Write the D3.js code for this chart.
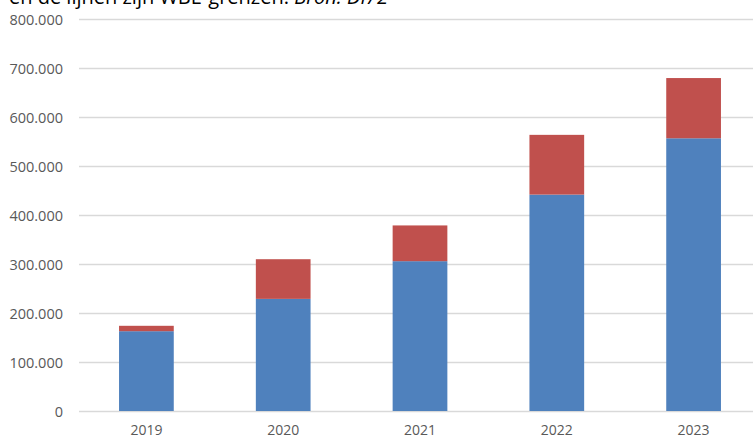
<!DOCTYPE html>
<html>
<head>
<meta charset="utf-8">
<script src="https://cdn.jsdelivr.net/npm/d3@7"></script>
<style>
  html, body { margin: 0; padding: 0; background: #fff; }
  svg { display: block; }
</style>
</head>
<body>
<svg id="chart" width="753" height="439"></svg>
<script>
const years = ["2019", "2020", "2021", "2022", "2023"];
const blueValues = [163000, 229000, 306000, 442000, 557000];
const redValues = [11000, 81000, 73000, 122000, 123000];
const yTicks = [0, 100000, 200000, 300000, 400000, 500000, 600000, 700000, 800000];
const captionText = "en de lijnen zijn WBE-grenzen. ";
const captionSource = "Bron: DI72";

const svg = d3.select("#chart");
const x = d3.scaleBand().domain(years).range([78, 762]).paddingInner(0.6).paddingOuter(0.3);
const y = d3.scaleLinear().domain([0, 800000]).range([411, 19.3]);
const fmt = v => v === 0 ? "0" : d3.format(",")(v).replace(/,/g, ".");

// caption (cut off at top, as in the reference)
const cap = svg.append("text").attr("x", 9).attr("y", 4)
  .attr("font-family", "'Open Sans', sans-serif").attr("font-size", 18).attr("fill", "#000");
cap.append("tspan").text(captionText);
cap.append("tspan").attr("font-style", "italic").text(captionSource);
const w = cap.node().getComputedTextLength();
cap.attr("font-size", 18 * 379 / w);

// gridlines
svg.append("g").selectAll("line").data(yTicks).join("line")
  .attr("x1", 79).attr("x2", 753)
  .attr("y1", d => Math.round(y(d)) + 0.5).attr("y2", d => Math.round(y(d)) + 0.5)
  .attr("stroke", "#d9d9d9").attr("stroke-width", 1.3);

const yAxis = d3.axisLeft(y).tickValues(yTicks).tickFormat(fmt).tickSize(0).tickPadding(0);
const ga = svg.append("g").attr("transform", "translate(63,0)").call(yAxis);
ga.select(".domain").remove();
ga.selectAll("text").attr("font-family", "'Open Sans', sans-serif").attr("font-size", 14.5)
  .attr("fill", "#595959").attr("dy", "0.35em");

const rows = years.map((yr, i) => ({ yr, blue: blueValues[i], red: redValues[i] }));
const stack = d3.stack().keys(["blue", "red"])(rows);
const colors = { blue: "#4f81bd", red: "#c0504d" };

svg.append("g").selectAll("g").data(stack).join("g")
  .attr("fill", d => colors[d.key])
  .selectAll("rect").data(d => d.map(p => ({ p, key: d.key }))).join("rect")
  .attr("x", d => x(d.p.data.yr))
  .attr("width", x.bandwidth())
  .attr("y", d => y(d.p[1]))
  .attr("height", d => y(d.p[0]) - y(d.p[1]));

// x axis
const xAxis = d3.axisBottom(x).tickSize(0).tickPadding(0);
const gx = svg.append("g").attr("transform", "translate(0,435)").call(xAxis);
gx.select(".domain").remove();
gx.selectAll("text").attr("font-family", "'Open Sans', sans-serif").attr("font-size", 14)
  .attr("fill", "#595959").attr("dy", 0);
</script>
</body>
</html>
